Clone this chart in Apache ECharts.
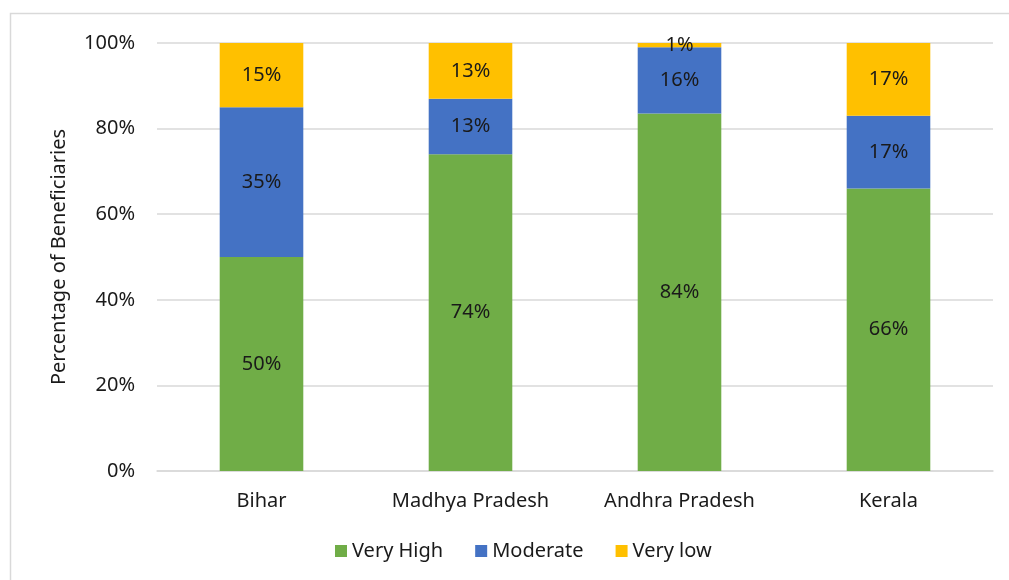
<!DOCTYPE html>
<html>
<head>
<meta charset="utf-8">
<script src="https://cdn.jsdelivr.net/npm/echarts@6/dist/echarts.min.js"></script>
<style>
  html, body { margin: 0; padding: 0; background: #fff; }
  #chart { width: 1009px; height: 580px; }
</style>
</head>
<body>
<div id="chart"></div>
<script>
// Beneficiary share by state, stacked to 100%
const states = ['Bihar', 'Madhya Pradesh', 'Andhra Pradesh', 'Kerala'];
const veryHigh = [50, 74, 83.5, 66];
const moderate = [35, 13, 15.5, 17];
const veryLow = [15, 13, 1, 17];
const yTicks = [0, 20, 40, 60, 80, 100];

const FONT = '"Noto Sans", "Open Sans", sans-serif';
const TEXT = '#1a1a1a';
const SIZE = 20;

const chart = echarts.init(document.getElementById('chart'), null, { renderer: 'canvas' });

function barSeries(name, data, color) {
  return {
    name: name,
    type: 'bar',
    stack: 'share',
    data: data,
    barWidth: '40%',
    itemStyle: { color: color },
    label: {
      show: true,
      position: 'inside',
      color: TEXT,
      fontFamily: FONT,
      fontSize: SIZE,
      formatter: p => Math.round(p.value) + '%'
    },
    emphasis: { disabled: true }
  };
}

chart.setOption({
  animation: false,
  backgroundColor: '#fff',
  textStyle: { fontFamily: FONT },
  graphic: [{
    type: 'rect',
    shape: { x: 10.5, y: 13.5, width: 1020, height: 600 },
    style: { fill: 'none', stroke: '#d9d9d9', lineWidth: 1.5 },
    silent: true,
    z: -10
  }],
  grid: { left: 157, right: 16, top: 43, bottom: 109 },
  legend: {
    bottom: 14,
    left: 330,
    itemWidth: 12,
    itemHeight: 12,
    itemGap: 32,
    icon: 'rect',
    textStyle: { color: TEXT, fontFamily: FONT, fontSize: SIZE },
    data: ['Very High', 'Moderate', 'Very low']
  },
  xAxis: {
    type: 'category',
    data: states,
    axisLine: { lineStyle: { color: '#d9d9d9', width: 1.5 } },
    axisTick: { show: false },
    axisLabel: { color: TEXT, fontFamily: FONT, fontSize: SIZE, margin: 20 }
  },
  yAxis: {
    type: 'value',
    min: yTicks[0],
    max: yTicks[yTicks.length - 1],
    interval: yTicks[1] - yTicks[0],
    name: 'Percentage of Beneficiaries',
    nameLocation: 'middle',
    nameGap: 88,
    nameTextStyle: { color: TEXT, fontFamily: FONT, fontSize: SIZE },
    axisLine: { show: false },
    axisTick: { show: false },
    splitLine: { lineStyle: { color: '#d9d9d9', width: 1.5 } },
    axisLabel: { color: TEXT, fontFamily: FONT, fontSize: SIZE, margin: 22, formatter: v => v + '%' }
  },
  series: [
    barSeries('Very High', veryHigh, '#70ad47'),
    barSeries('Moderate', moderate, '#4472c4'),
    barSeries('Very low', veryLow, '#ffc000')
  ]
});
</script>
</body>
</html>
